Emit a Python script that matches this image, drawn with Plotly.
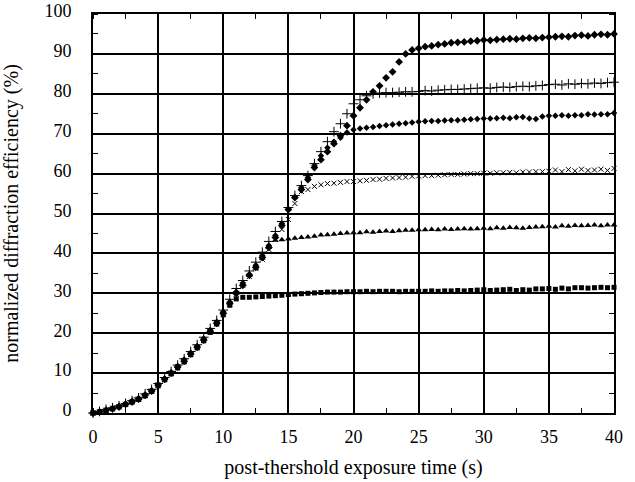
import plotly.graph_objects as go

time_s = [0.0, 0.5, 1.0, 1.5, 2.0, 2.5, 3.0, 3.5, 4.0, 4.5,
          5.0, 5.5, 6.0, 6.5, 7.0, 7.5, 8.0, 8.5, 9.0, 9.5,
          10.0, 10.5, 11.0, 11.5, 12.0, 12.5, 13.0, 13.5, 14.0, 14.5,
          15.0, 15.5, 16.0, 16.5, 17.0, 17.5, 18.0, 18.5, 19.0, 19.5,
          20.0, 20.5, 21.0, 21.5, 22.0, 22.5, 23.0, 23.5, 24.0, 24.5,
          25.0, 25.5, 26.0, 26.5, 27.0, 27.5, 28.0, 28.5, 29.0, 29.5,
          30.0, 30.5, 31.0, 31.5, 32.0, 32.5, 33.0, 33.5, 34.0, 34.5,
          35.0, 35.5, 36.0, 36.5, 37.0, 37.5, 38.0, 38.5, 39.0, 39.5,
          40.0]

eff_square = [0.0, 0.2, 0.6, 1.0, 1.5, 2.1, 2.7, 3.4, 4.3, 5.4,
              6.8, 8.3, 9.8, 11.3, 12.8, 14.6, 16.3, 18.1, 20.2, 22.3,
              24.6, 27.0, 28.6, 29.0, 29.0, 29.1, 29.2, 29.3, 29.4, 29.5,
              29.7, 29.8, 29.9, 30.0, 30.1, 30.2, 30.3, 30.3, 30.3, 30.4,
              30.4, 30.4, 30.5, 30.4, 30.5, 30.5, 30.5, 30.4, 30.5, 30.5,
              30.5, 30.5, 30.6, 30.5, 30.6, 30.6, 30.7, 30.6, 30.7, 30.8,
              30.9, 30.7, 30.8, 30.9, 31.0, 30.7, 30.9, 30.8, 31.1, 31.1,
              31.2, 31.0, 31.3, 31.1, 31.4, 31.4, 31.3, 31.4, 31.5, 31.4,
              31.5]

eff_triangle = [0.0, 0.3, 0.8, 1.2, 1.7, 2.3, 2.9, 3.6, 4.6, 5.6,
                7.1, 8.6, 10.1, 11.7, 13.2, 15.0, 16.7, 18.5, 20.7, 22.7,
                25.2, 27.6, 30.0, 32.2, 34.5, 36.3, 38.8, 41.5, 43.3, 43.4,
                43.6, 43.8, 44.0, 44.1, 44.3, 44.6, 44.7, 44.8, 45.0, 45.1,
                45.2, 45.2, 45.4, 45.3, 45.5, 45.6, 45.5, 45.7, 45.8, 45.8,
                45.9, 45.9, 46.0, 45.9, 46.1, 46.0, 46.1, 46.2, 46.1, 46.2,
                46.3, 46.2, 46.4, 46.3, 46.5, 46.4, 46.3, 46.5, 46.6, 46.7,
                46.8, 46.6, 46.9, 46.8, 47.0, 46.9, 47.0, 47.1, 46.9, 47.1,
                47.1]

eff_cross = [0.0, 0.3, 0.7, 1.2, 1.6, 2.2, 2.9, 3.5, 4.4, 5.5,
             7.0, 8.4, 10.0, 11.6, 13.0, 14.7, 16.4, 18.2, 20.4, 22.4,
             24.9, 27.3, 29.8, 32.0, 34.2, 36.2, 38.5, 41.0, 43.5, 46.0,
             48.5, 52.5, 55.5, 56.0, 56.8, 57.2, 57.5, 57.6, 57.8, 58.0,
             58.0, 58.2, 58.3, 58.5, 58.6, 58.8, 58.9, 59.0, 59.1, 59.3,
             59.4, 59.5, 59.5, 59.6, 59.7, 59.8, 59.8, 59.9, 60.0, 60.0,
             60.1, 60.1, 60.2, 60.2, 60.3, 60.2, 60.4, 60.4, 60.5, 60.5,
             60.6, 60.9, 60.5, 61.0, 60.7, 61.1, 60.8, 60.9, 61.1, 60.8,
             61.3]

eff_dot = [0.0, 0.4, 0.8, 1.2, 1.7, 2.3, 3.0, 3.7, 4.6, 5.7,
           7.2, 8.6, 10.2, 11.8, 13.4, 15.1, 16.8, 18.7, 20.8, 22.9,
           25.3, 27.8, 30.4, 32.6, 34.8, 37.0, 39.5, 42.0, 44.5, 47.5,
           51.0, 54.0, 56.5, 59.0, 62.0, 64.5, 66.5, 68.0, 69.0, 70.3,
           71.0, 71.3, 71.5, 71.7, 71.9, 72.1, 72.3, 72.5, 72.6, 72.8,
           73.0, 73.1, 73.2, 73.2, 73.3, 73.4, 73.4, 73.5, 73.6, 73.7,
           73.8, 73.8, 73.9, 74.0, 73.9, 74.1, 74.2, 73.8, 73.7, 74.3,
           74.5, 74.5, 74.6, 74.5, 74.6, 74.6, 74.9, 74.8, 74.9, 74.9,
           75.2]

eff_plus = [0.0, 0.4, 0.9, 1.3, 1.8, 2.4, 3.1, 3.8, 4.8, 5.9,
            7.4, 8.9, 10.4, 12.0, 13.6, 15.4, 17.1, 19.0, 21.2, 23.2,
            25.8, 28.5, 31.2, 33.2, 35.6, 37.8, 40.3, 43.0, 45.5, 48.0,
            51.5, 54.5, 57.0, 59.5, 62.5, 65.5, 68.0, 70.5, 72.5, 75.0,
            77.5, 78.5, 79.5, 80.0, 80.2, 80.3, 80.3, 80.4, 80.5, 80.5,
            80.6, 80.8, 80.7, 80.9, 81.0, 81.1, 81.1, 81.2, 81.3, 81.4,
            81.5, 81.4, 81.6, 81.7, 81.6, 81.8, 81.9, 81.8, 82.0, 82.1,
            82.3, 82.4, 82.2, 82.5, 82.4, 82.6, 82.5, 82.7, 82.6, 82.8,
            82.9]

eff_diamond = [0.0, 0.3, 0.7, 1.1, 1.6, 2.2, 2.8, 3.5, 4.5, 5.5,
               7.0, 8.5, 10.0, 11.5, 13.0, 14.8, 16.5, 18.3, 20.5, 22.5,
               25.0, 27.5, 30.0, 32.0, 34.5, 36.5, 39.0, 41.5, 44.0, 47.0,
               51.0, 54.0, 56.0, 58.5, 61.5, 63.5, 65.5, 67.5, 69.5, 72.0,
               74.5, 76.5, 78.5, 80.5, 82.0, 84.0, 85.5, 88.0, 90.0, 91.0,
               91.4, 91.8, 92.0, 92.3, 92.5, 92.8, 92.9, 93.0, 93.2, 93.3,
               93.5, 93.4, 93.6, 93.7, 93.8, 93.7, 93.9, 94.0, 93.9, 94.1,
               94.2, 94.3, 94.4, 94.3, 94.6, 94.7, 94.5, 94.8, 94.9, 94.8,
               95.0]

x_ticks = [0, 5, 10, 15, 20, 25, 30, 35, 40]
y_ticks = [0, 10, 20, 30, 40, 50, 60, 70, 80, 90, 100]

series = [
    (eff_square, dict(symbol="square", size=5, color="black")),
    (eff_triangle, dict(symbol="triangle-up", size=6, color="black")),
    (eff_cross, dict(symbol="x-thin", size=5, color="black", line=dict(width=1, color="black"))),
    (eff_dot, dict(symbol="diamond", size=5, color="black")),
    (eff_plus, dict(symbol="cross-thin", size=7, color="black", line=dict(width=1, color="black"))),
    (eff_diamond, dict(symbol="diamond", size=6, color="black")),
]

fig = go.Figure()
for vals, mk in series:
    fig.add_trace(go.Scatter(x=time_s, y=vals, mode="markers", marker=mk,
                             showlegend=False, cliponaxis=False))

font_family = "Liberation Serif"
axis_common = dict(
    showline=True, linecolor="black", linewidth=2, mirror="allticks",
    showgrid=True, gridcolor="black", gridwidth=2,
    zeroline=False, ticks="", automargin=False, ticklabeloverflow="allow",
    tickfont=dict(family=font_family, size=18, color="black"),
    minor=dict(ticks="inside", ticklen=5, tickcolor="black", tickwidth=1, showgrid=False),
)

fig.update_xaxes(range=[0, 40], tickvals=x_ticks, ticktext=[str(v) for v in x_ticks],
                 title=dict(text="post-thershold exposure time (s)",
                            font=dict(family=font_family, size=20, color="black"), standoff=14),
                 ticklabelstandoff=6, minor_dtick=2.5, **axis_common)
fig.update_yaxes(range=[0, 100], tickvals=y_ticks, ticktext=[str(v) for v in y_ticks],
                 title=dict(text="normalized diffraction efficiency (%)",
                            font=dict(family=font_family, size=20, color="black"), standoff=23),
                 ticklabelstandoff=16, ticklabelshift=-3, minor_dtick=5, **axis_common)

fig.update_layout(
    template="none",
    width=635, height=482,
    margin=dict(l=93, r=21, t=14, b=69, autoexpand=False),
    plot_bgcolor="white", paper_bgcolor="white",
    font=dict(family=font_family, color="black"),
)

# remove the default page margin so the 635x482 figure fills the window exactly
fig.write_html("out.html",
               config={"displayModeBar": False, "staticPlot": True},
               post_script="document.body.style.margin='0px';document.body.style.overflow='hidden';")
